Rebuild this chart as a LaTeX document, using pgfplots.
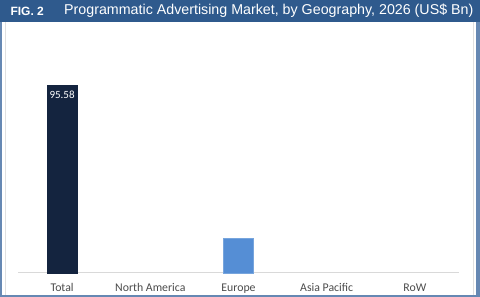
\documentclass[border=0pt]{standalone}
\usepackage{pgfplots}
\pgfplotsset{compat=1.18}
\usepackage{fontspec}
\setmainfont{Liberation Sans}
\newfontfamily\carlito{Carlito}
\definecolor{bordblue}{HTML}{6688B3}
\definecolor{titleblue}{HTML}{2F5A8D}
\definecolor{navy}{HTML}{14243F}
\definecolor{eublue}{HTML}{558ED5}
\definecolor{axgray}{HTML}{D9D9D9}
\begin{document}
\begin{tikzpicture}[x=1pt,y=1pt]
\fill[bordblue] (0,0) rectangle (480,297);
\fill[white] (2,2) rectangle (476,276);
\draw[line width=0.8pt,color=black!12] (5.5,2) -- (5.5,276);
\draw[line width=0.8pt,color=black!12] (473,2) -- (473,276);
\fill[titleblue] (0,275) rectangle (480,297);
\node[anchor=west,text=white,font=\bfseries\fontsize{12}{14}\selectfont] at (7,286) {FIG. 2};
\node[anchor=west,text=white,font=\fontsize{14.25}{16}\selectfont,inner sep=0pt] at (64,286) {Programmatic Advertising Market, by Geography, 2026 (US\$ Bn)};
\begin{axis}[
  at={(18pt,24pt)}, anchor=south west,
  scale only axis, width=441pt, height=233pt,
  xmin=-0.5, xmax=4.5, ymin=0, ymax=118.5,
  axis y line=none,
  axis x line*=bottom,
  x axis line style={draw=axgray,line width=1pt,-},
  xtick={0,1,2,3,4},
  xticklabels={Total,North America,Europe,Asia Pacific,RoW},
  xtick style={draw=none},
  xticklabel style={font=\carlito\fontsize{11.8}{13}\selectfont,text=black!70,yshift=-3pt},
  ybar, bar width=30pt, bar shift=0pt,
  clip=false,
]
\addplot[fill=navy,draw=navy,
  nodes near coords,
  nodes near coords style={anchor=north,text=white,font=\carlito\fontsize{11}{12}\selectfont,yshift=-2pt},
  point meta=explicit symbolic]
  coordinates {(0,95.58) [95.58]};
\addplot[fill=eublue,draw=eublue!80!white] coordinates {(2,17.8)};
\end{axis}
\end{tikzpicture}
\end{document}
